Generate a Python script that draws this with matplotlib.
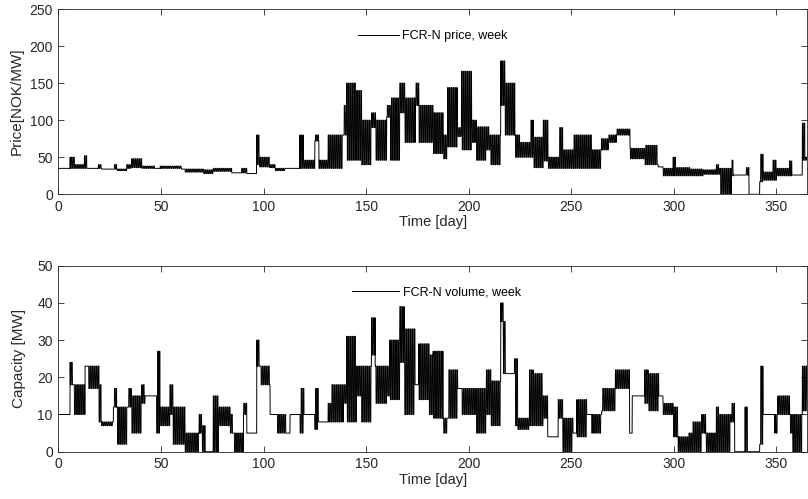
import numpy as np
import matplotlib
matplotlib.use("Agg")
import matplotlib.pyplot as plt

plt.rcParams['font.family'] = ['Liberation Sans', 'DejaVu Sans']

# ---- Data: weekly-auction blocks ----
# each block: start day, daytime (peak) level, night (off-peak) level
price_start = [0, 5.7, 7.8, 12.7, 14.3, 19.5, 21.1, 26.8, 28.4, 33.3, 35.7, 40.6, 47.1, 49.6,
               60.1, 61.7, 70.6, 75.5, 84.5, 89.3, 91.8, 96.6, 98.2, 103.1, 105.6, 110.4,
               117.7, 119.4, 125, 127, 131.5, 138.8, 140.5, 145.3, 147.8, 152.7, 154.6, 160,
               161.9, 166.4, 169, 174, 175.7, 182.6, 187.5, 189.7, 194.5, 196.5, 201.4, 203.8,
               208.5, 210.3, 215.6, 217.6, 222.5, 225, 230, 231.4, 236.3, 238.6, 244, 246,
               251, 259.8, 264.7, 268, 272, 278.6, 286, 292.3, 294.7, 299.6, 301.2, 307.7,
               314.2, 320.7, 322.3, 328, 329.1, 335, 336.6, 341.8, 343.4, 348.3, 350, 356.4,
               357.5, 362.6, 364.2]
price_hi = [35, 50, 40, 52, 35, 40, 34, 40, 34, 40, 48, 38, 35, 38,
            34, 34, 33, 35, 29, 35, 28, 80, 50, 40, 35, 35,
            80, 46, 80, 46, 80, 120, 150, 140, 100, 110, 100, 120,
            130, 150, 130, 150, 120, 110, 80, 144, 90, 166, 100, 91,
            91, 80, 180, 150, 80, 70, 100, 77, 100, 50, 90, 60,
            80, 60, 75, 80, 88, 62, 66, 37, 35, 50, 36, 34,
            33, 40, 35, 46, 26, 36, 0, 54, 30, 46, 35, 45,
            26, 96, 50]
price_lo = [35, 35, 35, 35, 35, 35, 34, 34, 32, 35, 36, 35, 35, 35,
            34, 30, 28, 31, 29, 29, 28, 40, 37, 36, 32, 35,
            35, 35, 72, 35, 35, 80, 46, 46, 40, 90, 46, 104,
            46, 110, 70, 120, 70, 55, 48, 64, 78, 60, 70, 46,
            60, 40, 120, 80, 50, 50, 50, 36, 45, 35, 35, 35,
            35, 35, 60, 70, 80, 48, 40, 37, 25, 25, 25, 25,
            27, 27, 0, 25, 26, 26, 0, 17, 19, 19, 25, 25,
            26, 46, 46]

vol_start = [0, 5.7, 7.3, 13, 14.6, 19.8, 21.1, 26.8, 28.4, 33.8, 35.5, 40.6, 42.2, 47.9,
             49.5, 54.4, 56, 61.7, 68.6, 70.2, 71.5, 75.5, 78, 83.7, 85.3, 90.2, 91.8,
             96.7, 98.3, 103.2, 106.4, 111.3, 112.9, 117.8, 119.7, 125, 126.7, 131.5,
             133.2, 138.9, 140.5, 145.3, 147.8, 152.6, 154.4, 159.9, 161.5, 166.4, 168.6,
             173.8, 175.6, 180.7, 182.6, 187.5, 189.8, 194.6, 196.6, 203.8, 208.6, 211,
             215.6, 216.9, 218.1, 222.3, 224, 229.6, 231.4, 236.2, 238.5, 243.6, 245.9,
             250.8, 252.7, 257.5, 260, 264.8, 271.5, 278.4, 279.7, 285.7, 287.4, 292.6,
             294.7, 299.6, 302.1, 306.9, 309, 313.6, 315.5, 320.7, 322.3, 327.8, 329.6,
             334.7, 336.2, 341.8, 343.4, 349.1, 350.7, 356.4, 358, 362.6]
vol_hi = [10, 24, 18, 23, 23, 18, 8, 17, 12, 17, 15, 18, 15, 27,
          12, 18, 12, 5, 10, 7, 0, 15, 12, 10, 5, 13, 5,
          30, 23, 10, 10, 5, 10, 17, 10, 17, 8, 13,
          18, 18, 31, 23, 23, 36, 23, 23, 30, 39, 33,
          18, 29, 26, 27, 9, 22, 17, 17, 17, 22, 19,
          40, 35, 21, 25, 9, 22, 21, 15, 4, 14, 9,
          5, 14, 10, 10, 17, 22, 5, 15, 22, 21, 15,
          13, 12, 4, 5, 8, 10, 5, 12, 10, 13, 0,
          12, 0, 23, 10, 10, 15, 10, 10, 23]
vol_lo = [10, 18, 10, 23, 17, 8, 7, 12, 2, 12, 5, 13, 15, 5,
          7, 10, 2, 0, 5, 0, 0, 0, 7, 5, 0, 10, 5,
          23, 18, 10, 5, 5, 10, 5, 10, 6, 8, 8,
          8, 13, 8, 15, 8, 26, 13, 15, 14, 24, 10,
          18, 14, 10, 9, 5, 9, 17, 10, 5, 10, 7,
          35, 21, 21, 7, 6, 7, 7, 9, 4, 9, 0,
          5, 4, 10, 5, 11, 17, 5, 15, 13, 11, 15,
          10, 4, 0, 0, 0, 5, 0, 0, 0, 8, 0,
          0, 0, 2, 10, 5, 10, 5, 0, 11]

peak_hours = (8, 20)   # hours of the day at the daytime level
n_days = 365


def hourly(starts, hi, lo):
    t = np.arange(n_days * 24) / 24.0
    idx = np.searchsorted(np.asarray(starts), t, side='right') - 1
    hod = np.arange(n_days * 24) % 24
    peak = (hod >= peak_hours[0]) & (hod < peak_hours[1])
    v = np.where(peak, np.asarray(hi, float)[idx], np.asarray(lo, float)[idx])
    return t, v


axc = (0.15, 0.15, 0.15)
fig = plt.figure(figsize=(8.08, 4.99), dpi=100)
ax1 = fig.add_axes([0.0722, 0.6106, 0.9268, 0.3713])
ax2 = fig.add_axes([0.0722, 0.0948, 0.9268, 0.3727])

t, p = hourly(price_start, price_hi, price_lo)
ax1.plot(t, p, color='k', lw=0.7, label='FCR-N price, week')
t, v = hourly(vol_start, vol_hi, vol_lo)
ax2.plot(t, v, color='k', lw=0.7, label='FCR-N volume, week')

ax1.set_ylim(0, 250)
ax1.set_yticks(range(0, 251, 50))
ax1.set_ylabel('Price[NOK/MW]', fontsize=11, color=axc)
ax1.yaxis.set_label_coords(-0.046, 0.5)
ax2.set_ylim(0, 50)
ax2.set_yticks(range(0, 51, 10))
ax2.set_ylabel('Capacity [MW]', fontsize=11, color=axc)
ax2.yaxis.set_label_coords(-0.043, 0.5)

for ax in (ax1, ax2):
    ax.set_xlim(0, 365)
    ax.set_xticks(range(0, 351, 50))
    ax.set_xlabel('Time [day]', fontsize=10.5, color=axc, labelpad=1)
    ax.tick_params(direction='in', top=True, right=True, length=4.5, width=0.6,
                   colors=axc, labelsize=10, pad=4)
    for s in ax.spines.values():
        s.set_color(axc)
        s.set_linewidth(0.6)

ax1.legend(loc='center left', bbox_to_anchor=(0.40, 0.854), frameon=False,
           fontsize=9, handlelength=3.3, handletextpad=0.25, borderaxespad=0, borderpad=0)
ax2.legend(loc='center left', bbox_to_anchor=(0.392, 0.855), frameon=False,
           fontsize=9, handlelength=3.8, handletextpad=0.25, borderaxespad=0, borderpad=0)

fig.savefig('out.png', dpi=100)
